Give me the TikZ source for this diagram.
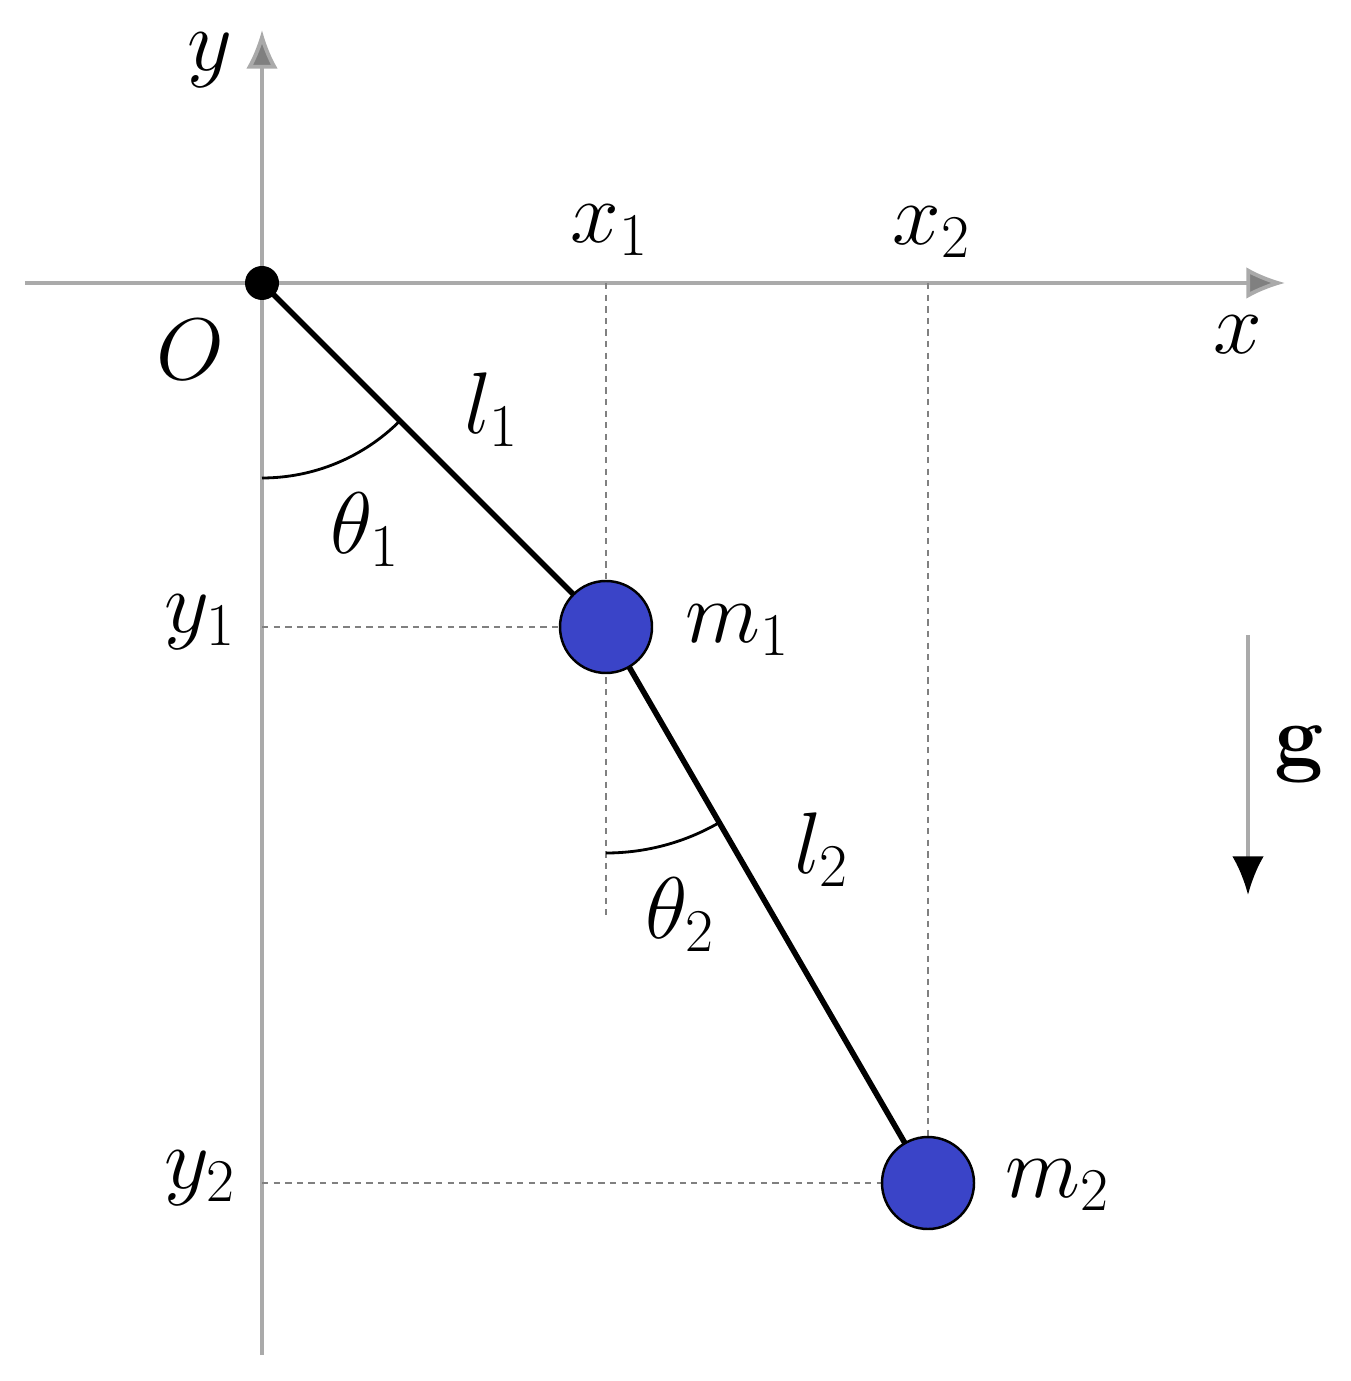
\documentclass[tikz,border=0pt]{standalone}
\usepackage{amsfonts, amssymb, amsmath}
\usepackage{xcolor}
\usepackage{tikz}
\usetikzlibrary{arrows.meta}

\definecolor{massblue}{RGB}{58,68,200}
\definecolor{axisgray}{RGB}{170,170,170}

\tikzset{
  axis/.style={draw=axisgray, line width=1.1pt, -{Latex[length=11pt,width=9pt,fill=gray]}},
  guide/.style={draw=gray, line width=0.7pt, dash pattern=on 1.8pt off 1.5pt},
  rod/.style={draw=black, line width=1.6pt},
  mass/.style={circle, draw=black, line width=0.7pt, fill=massblue, minimum size=0.92cm, inner sep=0pt},
  angarc/.style={draw=black, line width=0.8pt},
  lbl/.style={font=\fontsize{25}{30}\selectfont}
}

\begin{document}
\begin{tikzpicture}
  \useasboundingbox (-2.62,-10.98) rectangle (10.88,2.83);

  % Draw axes
  \draw[axis] (-2.37,0) -- (10.23,0);
  \draw[axis] (0,-10.72) -- (0,2.53);
  \node[lbl] (xlab) at (9.76,-0.52) {$x$};
  \node[lbl] (ylab) at (-0.52,2.23) {$y$};

  % Pivot and masses
  \node[circle, fill=black, minimum size=0.34cm, inner sep=0pt] (O) at (0,0) {};
  \node[lbl] (Olab) at (-0.72,-0.67) {$O$};
  \coordinate (X1) at (3.44,0);
  \coordinate (X2) at (6.66,0);
  \coordinate (Y1) at (0,-3.44);
  \coordinate (Y2) at (0,-9.0);
  \coordinate (V1) at (3.44,-6.32);

  % Dashed guide lines
  \draw[guide] (X1) -- (V1);
  \draw[guide] (X2) -- (6.66,-9.0);
  \draw[guide] (Y1) -- (3.44,-3.44);
  \draw[guide] (Y2) -- (6.66,-9.0);

  % Rods
  \draw[rod] (O.center) -- (3.44,-3.44) -- (6.66,-9.0);
  \node[mass] (m1) at (3.44,-3.44) {};
  \node[mass] (m2) at (6.66,-9.0) {};

  % Angle arcs
  \draw[angarc] (0,-1.95) arc[start angle=-90, end angle=-45, radius=1.95];
  \draw[angarc] (3.44,-5.70) arc[start angle=-90, end angle=-60, radius=2.26];

  % Gravity arrow
  \coordinate (gtop) at (9.86,-3.52);
  \coordinate (gbot) at (9.86,-6.12);
  \draw[draw=axisgray, line width=1.1pt, -{Latex[length=11pt,width=9pt,color=black]}] (gtop) -- (gbot);
  \node[lbl] (glab) at (10.38,-4.72) {$\mathbf{g}$};

  % Labels
  \node[lbl] (x1lab) at (3.48,0.53) {$x_1$};
  \node[lbl] (x2lab) at (6.70,0.51) {$x_2$};
  \node[lbl] (y1lab) at (-0.62,-3.39) {$y_1$};
  \node[lbl] (y2lab) at (-0.62,-8.95) {$y_2$};
  \node[lbl] (l1lab) at (2.30,-1.27) {$l_1$};
  \node[lbl] (l2lab) at (5.60,-5.67) {$l_2$};
  \node[lbl] (t1lab) at (1.03,-2.47) {$\theta_1$};
  \node[lbl] (t2lab) at (4.18,-6.32) {$\theta_2$};
  \node[lbl] (m1lab) at (4.76,-3.47) {$m_1$};
  \node[lbl] (m2lab) at (7.96,-9.02) {$m_2$};
\end{tikzpicture}
\end{document}
